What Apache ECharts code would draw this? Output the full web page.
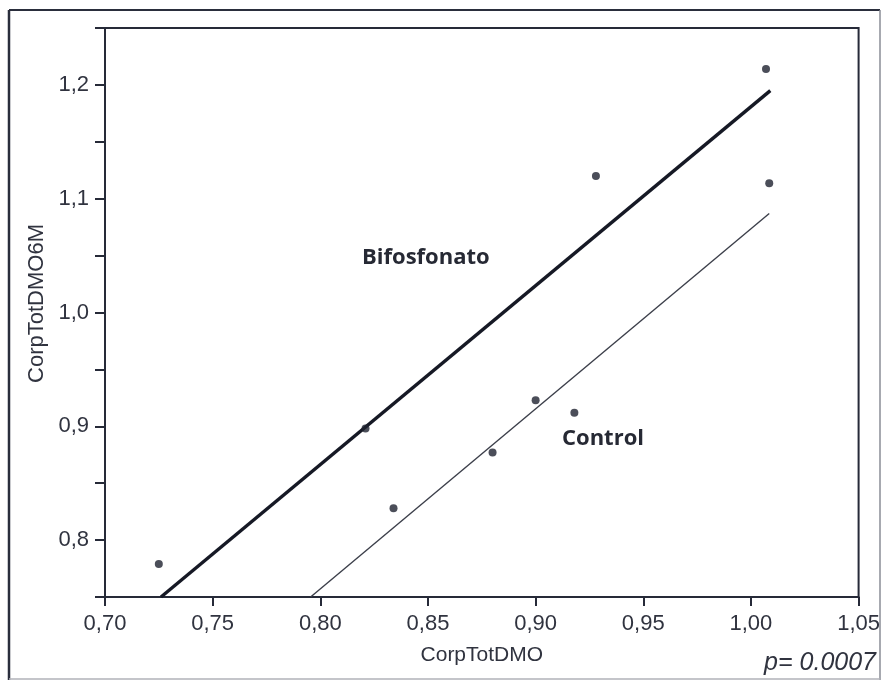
<!DOCTYPE html>
<html>
<head>
<meta charset="utf-8">
<script src="https://cdn.jsdelivr.net/npm/echarts@6/dist/echarts.min.js"></script>
<style>
html,body{margin:0;padding:0;background:#fff;}
#chart{width:883px;height:681px;}
</style>
</head>
<body>
<div id="chart"></div>
<script>
// ---- data ----
var xTicks = [0.70, 0.75, 0.80, 0.85, 0.90, 0.95, 1.00, 1.05];
var yTicks = [0.8, 0.9, 1.0, 1.1, 1.2];
var bifPointsX = [0.725, 0.821, 0.928, 1.007];
var bifPointsY = [0.779, 0.898, 1.120, 1.214];
var ctrlPointsX = [0.834, 0.880, 0.900, 0.918, 1.0085];
var ctrlPointsY = [0.828, 0.877, 0.923, 0.912, 1.1135];
var bifLineX = [0.726, 1.009];
var bifLineY = [0.750, 1.195];
var ctrlLineX = [0.7955, 1.0085];
var ctrlLineY = [0.750, 1.087];
var xName = 'CorpTotDMO';
var yName = 'CorpTotDMO6M';
var bifLabel = 'Bifosfonato';
var ctrlLabel = 'Control';
var pText = 'p= 0.0007';

function zip(a, b) { return a.map(function (v, i) { return [v, b[i]]; }); }

var ink = '#1e2230';
var axisInk = '#262a38';
var labelInk = '#30333f';

var chart = echarts.init(document.getElementById('chart'), null, {renderer: 'canvas'});
chart.setOption({
  animation: false,
  backgroundColor: '#ffffff',
  grid: {
    left: 105, top: 28, width: 757, height: 569,
    show: true, borderColor: axisInk, borderWidth: 2, backgroundColor: 'transparent'
  },
  xAxis: {
    type: 'value', min: 0.70, max: 1.05, interval: 0.05,
    name: xName, nameLocation: 'middle', nameGap: 48,
    nameTextStyle: {fontFamily: 'Liberation Sans', fontSize: 21, color: labelInk},
    axisLine: {show: true, onZero: false, lineStyle: {color: axisInk, width: 2}},
    axisTick: {show: true, inside: false, length: 9, lineStyle: {color: axisInk, width: 2}},
    axisLabel: {
      margin: 16, fontFamily: 'Liberation Sans', fontSize: 22, color: labelInk,
      formatter: function (v) {
        for (var i = 0; i < xTicks.length; i++) {
          if (Math.abs(xTicks[i] - v) < 1e-6) return xTicks[i].toFixed(2).replace('.', ',');
        }
        return '';
      }
    },
    splitLine: {show: false}
  },
  yAxis: {
    type: 'value', min: 0.75, max: 1.25, interval: 0.05,
    name: yName, nameLocation: 'middle', nameGap: 56, nameRotate: 90,
    nameTextStyle: {fontFamily: 'Liberation Sans', fontSize: 22, color: labelInk, padding: [0, 0, 0, 18]},
    axisLine: {show: true, onZero: false, lineStyle: {color: axisInk, width: 2}},
    axisTick: {show: true, inside: false, length: 10, lineStyle: {color: axisInk, width: 2}},
    axisLabel: {
      margin: 16, fontFamily: 'Liberation Sans', fontSize: 22, color: labelInk,
      showMinLabel: true, showMaxLabel: true,
      formatter: function (v) {
        for (var i = 0; i < yTicks.length; i++) {
          if (Math.abs(yTicks[i] - v) < 1e-6) return yTicks[i].toFixed(1).replace('.', ',');
        }
        return '';
      }
    },
    splitLine: {show: false}
  },
  series: [
    {
      name: 'Bifosfonato fit', type: 'line', data: zip(bifLineX, bifLineY),
      symbol: 'none', lineStyle: {color: '#161925', width: 3.4}, z: 2
    },
    {
      name: 'Control fit', type: 'line', data: zip(ctrlLineX, ctrlLineY),
      symbol: 'none', lineStyle: {color: '#3c3f4a', width: 1.4}, z: 2
    },
    {
      name: 'Bifosfonato', type: 'scatter', data: zip(bifPointsX, bifPointsY),
      symbol: 'circle', symbolSize: 8, itemStyle: {color: ink}, z: 3
    },
    {
      name: 'Control', type: 'scatter', data: zip(ctrlPointsX, ctrlPointsY),
      symbol: 'circle', symbolSize: 8, itemStyle: {color: ink}, z: 3
    }
  ],
  graphic: [
    {type: 'line', shape: {x1: 9, y1: 10, x2: 9, y2: 680}, style: {stroke: '#2a2e3c', lineWidth: 2.5}},
    {type: 'line', shape: {x1: 9, y1: 10, x2: 880, y2: 10}, style: {stroke: '#2a2e3c', lineWidth: 2}},
    {type: 'line', shape: {x1: 880, y1: 10, x2: 880, y2: 680}, style: {stroke: '#8a8d96', lineWidth: 1.5}},
    {type: 'line', shape: {x1: 9, y1: 679, x2: 880, y2: 679}, style: {stroke: '#b0b2b8', lineWidth: 1.5}},
    {type: 'text', left: 362, top: 247, style: {text: bifLabel, font: 'bold 22px "Open Sans"', fill: '#262934'}},
    {type: 'text', left: 562, top: 428, style: {text: ctrlLabel, font: 'bold 22px "Open Sans"', fill: '#262934'}},
    {type: 'text', right: 7, top: 651, style: {text: pText, font: 'italic 25px "Liberation Sans"', fill: '#30333f'}}
  ]
});
</script>
</body>
</html>
